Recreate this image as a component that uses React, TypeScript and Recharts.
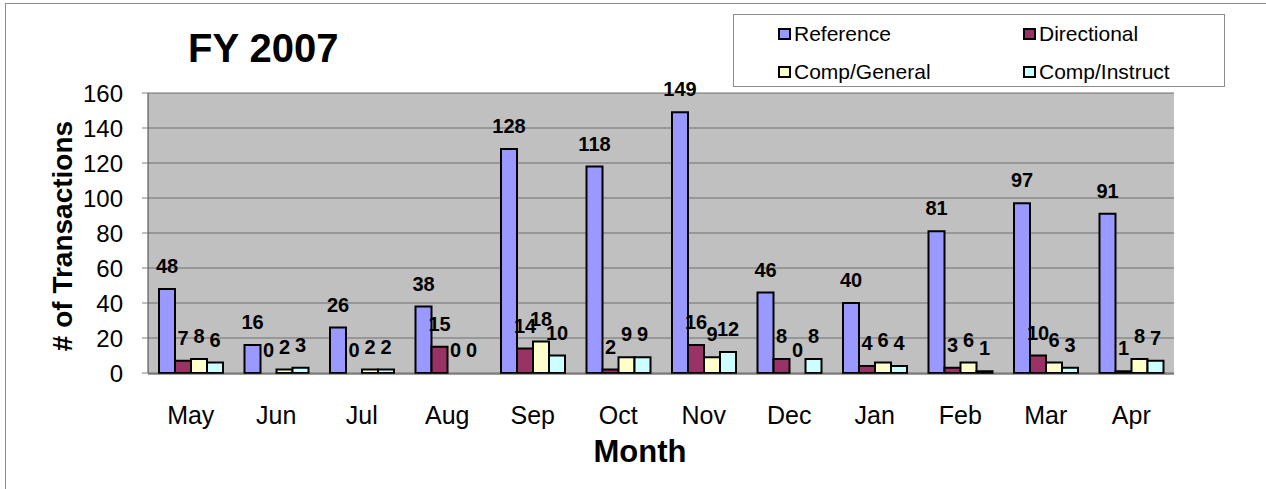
import {
  BarChart,
  Bar,
  XAxis,
  YAxis,
  CartesianGrid,
  LabelList,
  Legend,
  ReferenceLine,
  Rectangle,
} from "recharts"

const months = ["May", "Jun", "Jul", "Aug", "Sep", "Oct", "Nov", "Dec", "Jan", "Feb", "Mar", "Apr"]
const reference = [48, 16, 26, 38, 128, 118, 149, 46, 40, 81, 97, 91]
const directional = [7, 0, 0, 15, 14, 2, 16, 8, 4, 3, 10, 1]
const compGeneral = [8, 2, 2, 0, 18, 9, 9, 0, 6, 6, 6, 8]
const compInstruct = [6, 3, 2, 0, 10, 9, 12, 8, 4, 1, 3, 7]
const yTicks = [0, 20, 40, 60, 80, 100, 120, 140, 160]
const boundaryTicks = [0, 1, 2, 3, 4, 5, 6, 7, 8, 9, 10, 11, 12]

const series = [
  { key: "reference", name: "Reference", color: "#9999FF" },
  { key: "directional", name: "Directional", color: "#993366" },
  { key: "compGeneral", name: "Comp/General", color: "#FFFFCC" },
  { key: "compInstruct", name: "Comp/Instruct", color: "#CCFFFF" },
]

const data = months.map((month, i) => ({
  month,
  reference: reference[i],
  directional: directional[i],
  compGeneral: compGeneral[i],
  compInstruct: compInstruct[i],
}))

const FONT = '"Liberation Sans", Arial, sans-serif'

// value above each bar, zeros included
const renderValue = (props: any) => {
  const { x, y, width, height, value } = props
  const top = Math.min(Number(y), Number(y) + Number(height))
  return (
    <text
      x={Number(x) + Number(width) / 2}
      y={(value === 0 ? Number(y) + Number(height) : top) - 16}
      textAnchor="middle"
      fontSize={20}
      fontWeight="bold"
      fill="#000"
    >
      {String(value)}
    </text>
  )
}

// zero bars keep their label slot but draw nothing
const barShape = (key: string) => (props: any) =>
  props.payload && props.payload[key] === 0 ? <g /> : <Rectangle {...props} />

// two-by-two legend box like the Excel one
const LegendBox = () => (
  <div
    style={{
      boxSizing: "border-box",
      width: 492,
      height: 73,
      border: "1px solid #8c8c8c",
      background: "#fff",
      position: "relative",
      fontFamily: FONT,
      fontSize: 21,
      color: "#000",
    }}
  >
    {series.map((s, i) => (
      <div
        key={s.key}
        style={{
          position: "absolute",
          left: i % 2 === 0 ? 44 : 289,
          top: i < 2 ? 6 : 44,
          display: "flex",
          alignItems: "center",
          lineHeight: "26px",
          whiteSpace: "nowrap",
        }}
      >
        <span
          style={{
            display: "inline-block",
            boxSizing: "border-box",
            width: 13,
            height: 12,
            border: "2px solid #000",
            background: s.color,
            marginRight: 3,
          }}
        />
        {s.name}
      </div>
    ))}
  </div>
)

export default function App() {
  return (
    <div style={{ position: "absolute", left: 0, top: 0, width: 1266, height: 489, background: "#fff" }}>
      {/* outer chart frame */}
      <div
        style={{
          position: "absolute",
          left: 5,
          top: 3,
          right: 0,
          bottom: 0,
          borderTop: "1px solid #8c8c8c",
          borderLeft: "1px solid #8c8c8c",
        }}
      />
      <BarChart
        width={1266}
        height={489}
        data={data}
        margin={{ top: 93, right: 92, bottom: 114, left: 48 }}
        barGap={0}
        barSize={16}
        style={{ fontFamily: FONT }}
      >
        <CartesianGrid xAxisId="m" vertical={false} stroke="#6e6e6e" fill="#C0C0C0" />
        <XAxis
          xAxisId="b"
          type="number"
          domain={[0, 12]}
          ticks={boundaryTicks}
          allowDataOverflow
          height={1}
          tick={false}
          axisLine={false}
          tickLine={{ stroke: "#808080" }}
          tickSize={9}
        />
        <XAxis
          xAxisId="m"
          dataKey="month"
          height={1}
          interval={0}
          tickLine={false}
          tickSize={6}
          tickMargin={26}
          axisLine={{ stroke: "#404040" }}
          tick={{ fill: "#000", fontSize: 25 }}
        />
        <YAxis
          width={100}
          domain={[0, 160]}
          ticks={yTicks}
          interval={0}
          tickSize={6}
          tickMargin={19}
          axisLine={{ stroke: "#404040" }}
          tickLine={{ stroke: "#808080" }}
          tick={{ fill: "#000", fontSize: 24 }}
        />
        <ReferenceLine xAxisId="b" x={12} stroke="#a0a0a0" />
        {series.map((s) => (
          <Bar
            key={s.key}
            xAxisId="m"
            dataKey={s.key}
            name={s.name}
            fill={s.color}
            stroke="#000"
            strokeWidth={2}
            minPointSize={1}
            shape={barShape(s.key)}
            isAnimationActive={false}
          >
            <LabelList dataKey={s.key} content={renderValue} />
          </Bar>
        ))}
        <Legend
          layout="horizontal"
          verticalAlign="middle"
          align="center"
          wrapperStyle={{ left: 733, top: 14, width: 492, height: 73 }}
          content={() => <LegendBox />}
        />
      </BarChart>
      <svg
        width={1266}
        height={489}
        style={{ position: "absolute", left: 0, top: 0, pointerEvents: "none", fontFamily: FONT }}
      >
        <text x={188} y={62} fontSize={40} fontWeight="bold" fill="#000">
          FY 2007
        </text>
        <text x={640} y={462} fontSize={31} fontWeight="bold" fill="#000" textAnchor="middle">
          Month
        </text>
        <text
          x={0}
          y={0}
          transform="translate(72, 236) rotate(-90)"
          fontSize={28}
          fontWeight="bold"
          fill="#000"
          textAnchor="middle"
        >
          # of Transactions
        </text>
      </svg>
    </div>
  )
}
